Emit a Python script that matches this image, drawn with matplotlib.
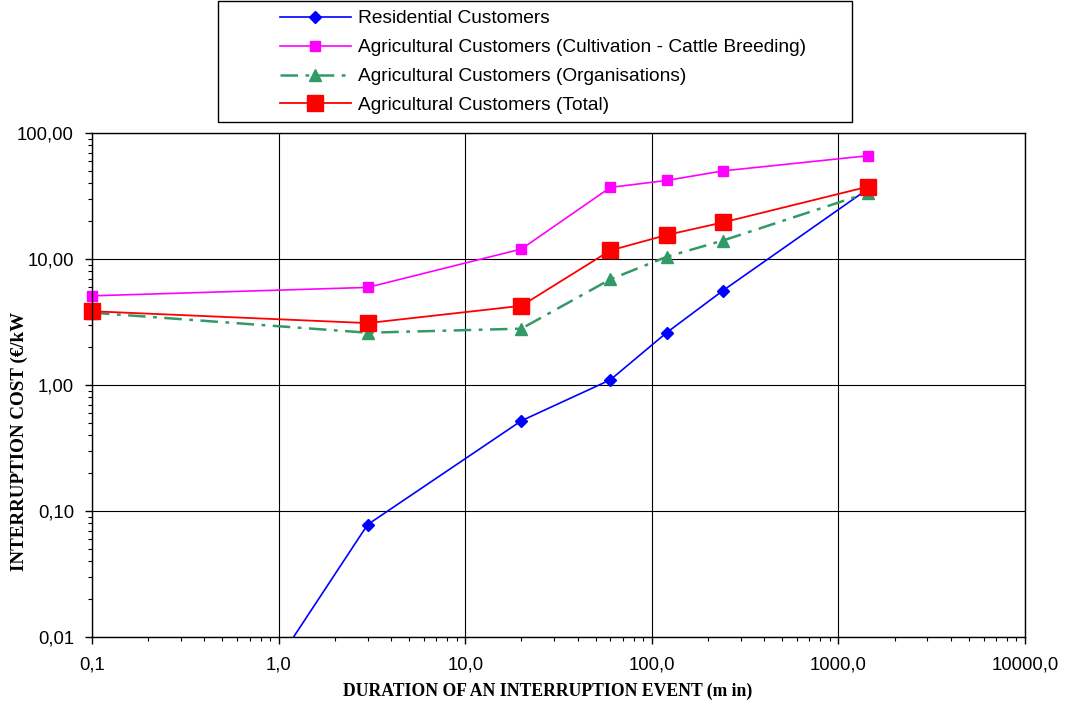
import matplotlib
matplotlib.use("Agg")
import matplotlib.pyplot as plt
from matplotlib.ticker import FixedLocator, LogLocator, NullFormatter
from matplotlib.patches import Rectangle

# duration of interruption (min)
dur = [0.1, 3, 20, 60, 120, 240, 1440]
dur_res = [1.0, 3, 20, 60, 120, 240, 1440]

# interruption cost (EUR/kW)
residential = [0.0066, 0.078, 0.52, 1.1, 2.6, 5.6, 36.0]
cultivation = [5.1, 5.95, 12.0, 37.0, 42.0, 50.0, 66.0]
organisations = [3.75, 2.6, 2.8, 6.9, 10.4, 14.0, 33.5]
total = [3.85, 3.1, 4.25, 11.7, 15.5, 19.5, 37.5]

x_ticks = [0.1, 1, 10, 100, 1000, 10000]
x_tick_labels = ["0,1", "1,0", "10,0", "100,0", "1000,0", "10000,0"]
y_ticks = [0.01, 0.1, 1, 10, 100]
y_tick_labels = ["0,01", "0,10", "1,00", "10,00", "100,00"]

W, H = 1065, 708
fig = plt.figure(figsize=(W / 100, H / 100), dpi=100)
ax = fig.add_axes([92 / W, 1 - 637 / H, (1025 - 92) / W, (637 - 133) / H])

sans = ["Liberation Sans", "DejaVu Sans"]
serif = ["Liberation Serif", "DejaVu Serif"]

l1, = ax.plot(dur_res, residential, color="#0000ff", lw=1.2, marker="D", ms=6,
              label="Residential Customers")
l2, = ax.plot(dur, cultivation, color="#ff00ff", lw=1.2, marker="s", ms=7.5,
              label="Agricultural Customers (Cultivation - Cattle Breeding)", clip_on=False)
l3, = ax.plot(dur, organisations, color="#339966", lw=1.8, marker="^", ms=8,
              label="Agricultural Customers (Organisations)", clip_on=False)
l3.set_dashes([7, 3, 1.5, 3])
l4, = ax.plot(dur, total, color="#ff0000", lw=1.3, marker="s", ms=12,
              label="Agricultural Customers (Total)", clip_on=False)

ax.set_xscale("log")
ax.set_yscale("log")
ax.set_xlim(0.1, 10000)
ax.set_ylim(0.01, 100)

ax.xaxis.set_major_locator(FixedLocator(x_ticks))
ax.set_xticklabels(x_tick_labels, fontfamily=sans, fontsize=13.3)
ax.yaxis.set_major_locator(FixedLocator(y_ticks))
ax.set_yticklabels(y_tick_labels, fontfamily=sans, fontsize=13.3)
ax.xaxis.set_minor_locator(LogLocator(base=10, subs=range(2, 10), numticks=20))
ax.yaxis.set_minor_locator(LogLocator(base=10, subs=range(2, 10), numticks=20))
ax.xaxis.set_minor_formatter(NullFormatter())
ax.yaxis.set_minor_formatter(NullFormatter())
ax.tick_params(which="major", direction="out", length=5, width=1, color="black")
ax.tick_params(which="minor", direction="out", length=3, width=0.8, color="black")
ax.tick_params(axis="x", which="major", pad=9)
ax.tick_params(axis="y", which="major", pad=8)

ax.grid(True, which="major", color="black", lw=0.8)
ax.set_axisbelow(True)
for s in ax.spines.values():
    s.set_color("black")
    s.set_linewidth(1)

fig.text(548 / W, 1 - 691 / H, "DURATION OF AN INTERRUPTION EVENT (m in)",
         ha="center", va="center", fontfamily=serif, fontweight="bold", fontsize=12.7)
fig.text(19 / W, 1 - 441 / H, "INTERRUPTION COST (\u20ac/kW", rotation=90,
         ha="center", va="center", fontfamily=serif, fontweight="bold", fontsize=13.7)

# legend above the plot, boxed by hand
fig.patches.append(Rectangle((218 / W, 1 - 122 / H), (852 - 218) / W, 121 / H,
                             transform=fig.transFigure, fill=False,
                             edgecolor="black", lw=1))
fig.legend(handles=[l1, l2, l3, l4], loc="upper left",
           bbox_to_anchor=(280 / W, 1 - 10 / H), frameon=False, borderpad=0,
           borderaxespad=0, handlelength=3.7, handletextpad=0.35, labelspacing=0.6,
           prop={"family": sans, "size": 13.8})

fig.savefig("out.png", dpi=100)
